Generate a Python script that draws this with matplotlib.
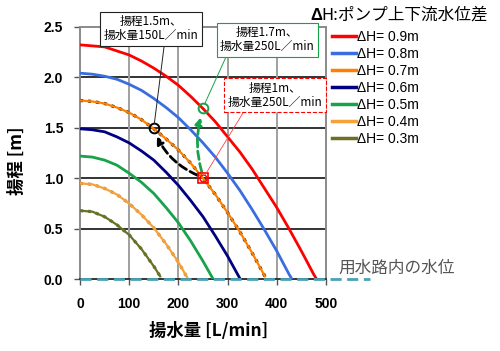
import matplotlib
matplotlib.use("Agg")
import matplotlib.pyplot as plt
from matplotlib.lines import Line2D

# ---------- data ----------
labels = ["ΔH= 0.9m", "ΔH= 0.8m", "ΔH= 0.7m", "ΔH= 0.6m", "ΔH= 0.5m", "ΔH= 0.4m", "ΔH= 0.3m"]

q_09 = [0, 25, 50, 75, 100, 125, 150, 175, 200, 225, 250, 275, 300, 325, 350, 375, 400, 425, 450, 475, 480]
h_09 = [2.32, 2.31, 2.30, 2.26, 2.22, 2.16, 2.09, 2.01, 1.92, 1.81, 1.69, 1.56, 1.41, 1.26, 1.09, 0.90, 0.71, 0.50, 0.28, 0.05, 0.01]
q_08 = [0, 25, 50, 75, 100, 125, 150, 175, 200, 225, 250, 275, 300, 325, 350, 375, 400, 425, 430]
h_08 = [2.04, 2.03, 2.01, 1.98, 1.93, 1.87, 1.79, 1.70, 1.60, 1.48, 1.35, 1.21, 1.05, 0.88, 0.69, 0.49, 0.28, 0.05, 0.01]
q_07 = [0, 25, 50, 75, 100, 125, 150, 175, 200, 225, 250, 275, 300, 325, 350, 376]
h_07 = [1.77, 1.76, 1.74, 1.70, 1.65, 1.58, 1.49, 1.39, 1.28, 1.15, 1.00, 0.84, 0.66, 0.47, 0.26, 0.03]
q_06 = [0, 25, 50, 75, 100, 125, 150, 175, 200, 225, 250, 275, 300, 326]
h_06 = [1.49, 1.48, 1.46, 1.41, 1.35, 1.27, 1.18, 1.06, 0.93, 0.78, 0.62, 0.43, 0.23, 0.0]
q_05 = [0, 25, 50, 75, 100, 125, 150, 175, 200, 225, 250, 271]
h_05 = [1.22, 1.21, 1.18, 1.13, 1.05, 0.96, 0.85, 0.71, 0.56, 0.38, 0.18, 0.0]
q_04 = [0, 25, 50, 75, 100, 125, 150, 175, 200, 220]
h_04 = [0.95, 0.94, 0.90, 0.84, 0.75, 0.64, 0.51, 0.35, 0.17, 0.0]
q_03 = [0, 25, 50, 75, 100, 125, 150, 163]
h_03 = [0.68, 0.67, 0.62, 0.54, 0.44, 0.30, 0.13, 0.03]

x_ticks = [0, 100, 200, 300, 400, 500]
y_ticks = [0.0, 0.5, 1.0, 1.5, 2.0, 2.5]

# operating points
pt_a = (150, 1.5)   # 揚程1.5m, 150L/min
pt_b = (250, 1.7)   # 揚程1.7m, 250L/min
pt_c = (250, 1.0)   # 揚程1m, 250L/min
water_x = [0, 590]
water_y = [0, 0]

# ---------- styles ----------
series = [(q_09, h_09), (q_08, h_08), (q_07, h_07), (q_06, h_06),
          (q_05, h_05), (q_04, h_04), (q_03, h_03)]
colors = ["#ff0000", "#3a6ee0", "#ff8000", "#000080", "#17a34a", "#f7a238", "#6e6e25"]
edges = [None, None, "#4a2a00", None, None, "#c88a40", "#4c8c3c"]

CJK = ["Noto Sans CJK JP", "DejaVu Sans"]
LAT = ["Liberation Sans", "DejaVu Sans"]

fig = plt.figure(figsize=(5, 3.51), dpi=100)
ax = fig.add_axes([0.16, 0.204, 0.492, 0.72])

# grid
for y in y_ticks[1:-1]:
    ax.axhline(y, color="#333333", lw=1.4, zorder=1)
for x in x_ticks[1:-1]:
    ax.axvline(x, color="#a0a0a0", lw=1.4, zorder=1)

for (q, h), c, e in zip(series, colors, edges):
    if e is not None:
        ax.plot(q, h, color=e, lw=2.3, ls=(0, (1, 1.5)), zorder=3)
        ax.plot(q, h, color=c, lw=1.6, zorder=4)
    else:
        ax.plot(q, h, color=c, lw=2, zorder=4)

# water level line
ax.plot(water_x, water_y, color="#4aa2b6", lw=2, ls=(0, (4, 2)), clip_on=False, zorder=5)

# arrows
ax.annotate("", xy=(pt_a[0] + 4, pt_a[1] - 0.06), xytext=(pt_c[0] - 6, pt_c[1] + 0.02),
            arrowprops=dict(arrowstyle="-|>,head_length=0.4,head_width=0.2", color="black",
                            lw=2, ls=(0, (3, 1.5)), connectionstyle="arc3,rad=-0.2"), zorder=6)
ax.annotate("", xy=(pt_b[0] - 3, pt_b[1] - 0.07), xytext=(pt_c[0] - 1, pt_c[1] + 0.04),
            arrowprops=dict(arrowstyle="-|>,head_length=0.4,head_width=0.2", color="#17a34a",
                            lw=2, ls=(0, (3, 1.5)), connectionstyle="arc3,rad=-0.15"), zorder=6)

# markers
ax.plot(*pt_a, marker="o", ms=7, mfc="none", mec="black", mew=1.4, zorder=7)
ax.plot(*pt_b, marker="o", ms=7, mfc="none", mec="#17a34a", mew=1.4, zorder=7)
ax.plot(*pt_c, marker="s", ms=7, mfc="none", mec="#ff0000", mew=1.2, zorder=7)
ax.plot(*pt_c, marker="o", ms=5, mfc="none", mec="#ff0000", mew=1.0, zorder=7)

# callout boxes
box_kw = dict(fontsize=8.5, family=CJK, ha="center", va="center", linespacing=1.1,
              annotation_clip=False, zorder=8)
ax.annotate("揚程1.5m、\n揚水量150L／min", xy=pt_a, xytext=(145, 2.48),
            bbox=dict(boxstyle="square,pad=0.3", fc="white", ec="#222222", lw=0.8),
            arrowprops=dict(arrowstyle="-", color="#222222", lw=0.7, relpos=(0.64, 0),
                            shrinkA=0, shrinkB=3), **box_kw)
ax.annotate("揚程1.7m、\n揚水量250L／min", xy=pt_b, xytext=(381, 2.37),
            bbox=dict(boxstyle="square,pad=0.3", fc="white", ec="#17a34a", lw=0.8),
            arrowprops=dict(arrowstyle="-", color="#17a34a", lw=0.7, relpos=(0.08, 0),
                            shrinkA=0, shrinkB=3), **box_kw)
ax.annotate("揚程1m、\n揚水量250L／min", xy=pt_c, xytext=(396, 1.82),
            bbox=dict(boxstyle="square,pad=0.3", fc="white", ec="#ff0000", lw=0.8, ls="--"),
            arrowprops=dict(arrowstyle="-", color="#ff4040", lw=0.6, relpos=(0.19, 0),
                            shrinkA=0, shrinkB=3), **box_kw)

# axes styling
ax.set_xlim(0, 500)
ax.set_ylim(0, 2.5)
ax.set_xticks(x_ticks)
ax.set_yticks(y_ticks)
ax.set_yticklabels([f"{v:.1f}" for v in y_ticks])
ax.tick_params(direction="out", length=4, width=1, color="#555555", labelsize=10)
ax.tick_params(axis="x", pad=9)
ax.tick_params(axis="y", pad=8)
for lab in ax.get_xticklabels() + ax.get_yticklabels():
    lab.set_family(LAT)
    lab.set_weight("bold")
for s in ["left", "top", "right"]:
    ax.spines[s].set_color("#8a8a8a")
    ax.spines[s].set_linewidth(1.4)
ax.spines["bottom"].set_color("#333333")
ax.spines["bottom"].set_linewidth(1.4)

fig.text(0.418, 0.057, "揚水量 [L/min]", family=CJK, weight="bold", fontsize=12.5,
         ha="center", va="center")
fig.text(0.034, 0.541, "揚程 [m]", family=CJK, weight="bold", fontsize=12.5,
         rotation=90, ha="center", va="center")
fig.text(0.676, 0.235, "用水路内の水位", family=CJK, fontsize=12, color="#555555",
         ha="left", va="center")

# legend
fig.text(0.62, 0.957, "Δ", family=LAT, weight="bold", fontsize=12, ha="left", va="center")
fig.text(0.642, 0.957, "H:ポンプ上下流水位差", family=CJK, fontsize=12, ha="left", va="center")
handles = [Line2D([], [], color=c, lw=2.5) for c in colors]
fig.legend(handles, labels, loc="upper left", bbox_to_anchor=(0.664, 0.915),
           bbox_transform=fig.transFigure, frameon=False, borderpad=0, borderaxespad=0,
           handlelength=1.7, handletextpad=0.1, labelspacing=0.22,
           prop=dict(family="Liberation Sans", size=10))

fig.savefig("out.png", dpi=100)
